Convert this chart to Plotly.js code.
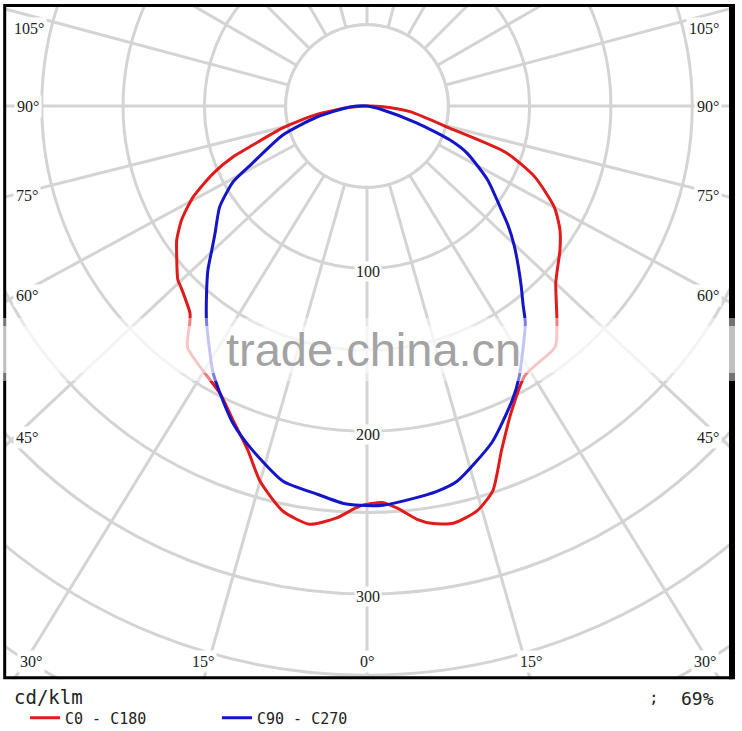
<!DOCTYPE html>
<html>
<head>
<meta charset="utf-8">
<script src="https://cdn.plot.ly/plotly-3.0.1.min.js"></script>
<style>
  html, body { margin: 0; padding: 0; background: #fff; overflow: hidden; }
  #wrap { position: relative; width: 742px; height: 731px; overflow: hidden; background: #fff; }
  #chart { position: absolute; left: -316px; top: -577px; width: 1366px; height: 1366px; }
</style>
</head>
<body>
<div id="wrap"><div id="chart"></div></div>
<script>
// ---------------- data ----------------
// angle from nadir in degrees: negative = left half, positive = right half; r in cd/klm
const c0Theta = [-90, -85.6, -80.6, -75.5, -70.8, -69.2, -66.4, -62.4, -58.4, -54.8, -52.8, -47.4, -45.5, -40.5, -39.3, -36.6, -27.1, -23.1, -19.1, -15.9, -11.7, -7.8, -4.2, -1, 2.2, 4.3, 6.9, 9, 11.7, 15.2, 18.1, 21.4, 25.5, 30.4, 38, 41.3, 46.9, 53.3, 57.3, 61.6, 67.1, 71.5, 75, 82.5, 87.5, 90];
const c0R     = [0, 10.5, 31.4, 53.2, 76.2, 88, 103, 120.6, 133.9, 143.2, 147, 158, 160, 167.6, 172, 185, 198.5, 210, 224, 240, 254.5, 259.6, 254, 246, 244, 248, 256, 260, 262, 258, 249, 227, 207, 192, 188, 177, 159, 148, 141, 131, 112, 90, 52.9, 26.7, 10, 0];

const c90Theta = [-90, -86.6, -77.6, -71, -63, -60.5, -55.6, -50, -47.2, -44.1, -40.6, -36.6, -30.1, -27.1, -22.9, -18.9, -12.6, -7.3, -3.5, -1, 2.3, 6.2, 10.3, 13.5, 20.4, 26.3, 29.3, 36.1, 38.1, 40.7, 43.5, 46.6, 49.8, 52.8, 58.5, 64.8, 67.7, 71.2, 76, 90];
const c90R     = [0, 10.5, 31.5, 54.7, 81, 94.5, 109.8, 122, 130, 140.6, 151.6, 165.5, 189, 198.4, 211.8, 221.9, 236.5, 240.7, 244.7, 245.6, 245.7, 243.3, 240.8, 237.3, 220.6, 201.7, 191.2, 165.2, 155.6, 145.3, 135, 124.5, 113.5, 102.8, 87, 68, 55.2, 32.5, 10.1, 0];

const seriesNames = ['C0 - C180', 'C90 - C270'];
const radialGrid = [50, 100, 150, 200, 250, 300, 350, 400];
const radialLabels = [100, 200, 300];
const spokeAngles = [0, 15.9, 31.6, 46.8, 61.6, 75.9, 90, 105, 120, 135, 150, 165, 180];
const angleLabels = ['105°', '90°', '75°', '60°', '45°', '30°', '15°', '0°', '15°', '30°', '45°', '60°', '75°', '90°', '105°'];
const unitLabel = 'cd/klm';
const effLabel = '69%';

// ---------------- geometry / styling ----------------
const W = 1366;               // plot size (clipped by wrapper)
const OX = 367, OY = 106;     // pole position on the page
const RMAX = 420;
const SCALE = (W / 2) / RMAX; // px per cd/klm
const px = x => (x - (OX - W / 2)) / W;
const py = y => 1 - (y - (OY - W / 2)) / W;

const angleLabelPos = [[29,28],[28,106],[27,195],[27,295],[27,437],[31,661],[203,661],[367,661],[531,661],[705,661],[708,437],[708,295],[708,195],[708,106],[704,28]];

const gridColor = '#d4d4d4';
const labelFont = {family: 'Liberation Serif, DejaVu Serif, serif', size: 16, color: '#222'};
const monoFont = {family: 'DejaVu Sans Mono, Liberation Mono, monospace', size: 15, color: '#222'};

const tickvals = [];
spokeAngles.forEach(a => { tickvals.push(a); if (a > 0 && a < 180) tickvals.push(360 - a); });

// inner mask circle (no spokes inside r = 50)
const maskTheta = [], maskR = [];
for (let t = 0; t <= 360; t += 2) { maskTheta.push(t); maskR.push(radialGrid[0]); }

const traces = [
  {type: 'scatterpolar', mode: 'lines', theta: maskTheta, r: maskR, fill: 'toself', fillcolor: '#ffffff',
   line: {color: gridColor, width: 3}, showlegend: false, hoverinfo: 'skip'},
  {type: 'scatterpolar', mode: 'lines', name: seriesNames[0], theta: c0Theta, r: c0R,
   line: {color: '#e01b1b', width: 3, shape: 'spline', smoothing: 0.6}},
  {type: 'scatterpolar', mode: 'lines', name: seriesNames[1], theta: c90Theta, r: c90R,
   line: {color: '#1414c8', width: 3, shape: 'spline', smoothing: 0.6}}
];

const annotations = [];
angleLabels.forEach((t, i) => {
  annotations.push({xref: 'paper', yref: 'paper', x: px(angleLabelPos[i][0]), y: py(angleLabelPos[i][1]),
    text: t, showarrow: false, font: labelFont, bgcolor: '#ffffff', borderpad: 2, xanchor: 'center', yanchor: 'middle'});
});
radialLabels.forEach(v => {
  annotations.push({xref: 'paper', yref: 'paper', x: px(OX + 1), y: py(OY + v * SCALE + 3),
    text: String(v), showarrow: false, font: labelFont, bgcolor: '#ffffff', borderpad: 1, xanchor: 'center', yanchor: 'middle'});
});
annotations.push({xref: 'paper', yref: 'paper', x: px(373), y: py(350), text: 'trade.china.cn', showarrow: false,
  font: {family: 'Liberation Sans, Arial, sans-serif', size: 47, color: '#a3a3a3'}, xanchor: 'center', yanchor: 'middle'});
annotations.push({xref: 'paper', yref: 'paper', x: px(12), y: py(697), text: unitLabel, showarrow: false,
  font: {family: monoFont.family, size: 19, color: '#222'}, xanchor: 'left', yanchor: 'middle'});
annotations.push({xref: 'paper', yref: 'paper', x: px(654), y: py(697), text: ';', showarrow: false,
  font: {family: monoFont.family, size: 16, color: '#222'}, xanchor: 'center', yanchor: 'middle'});
annotations.push({xref: 'paper', yref: 'paper', x: px(697), y: py(698), text: effLabel, showarrow: false,
  font: {family: monoFont.family, size: 18, color: '#222'}, xanchor: 'center', yanchor: 'middle'});

const rect = (x0, y0, x1, y1, extra) => Object.assign({type: 'rect', xref: 'paper', yref: 'paper', layer: 'above',
  x0: px(x0), x1: px(x1), y0: py(y0), y1: py(y1), line: {width: 0}, fillcolor: '#ffffff'}, extra || {});

const shapes = [
  rect(-2, -2, 744, 4),
  rect(-2, -2, 3.2, 733),
  rect(735, -2, 744, 733),
  rect(-2, 679.3, 744, 733),
  rect(4.7, 5.5, 731, 677.7, {fillcolor: 'rgba(0,0,0,0)', line: {color: '#000', width: 3}}),
  {type: 'line', xref: 'paper', yref: 'paper', layer: 'above', x0: px(732), x1: px(732), y0: py(4), y1: py(679.2), line: {color: '#000', width: 6}},
  rect(-2, 318, 744, 381, {opacity: 0.45}),
  rect(-2, 326, 744, 373, {opacity: 0.55})
];

const layout = {
  width: W, height: W,
  margin: {l: 0, r: 0, t: 0, b: 0, pad: 0},
  paper_bgcolor: '#ffffff',
  showlegend: true,
  legend: {orientation: 'h', x: px(25), y: py(718), xanchor: 'left', yanchor: 'middle',
    font: monoFont, bgcolor: 'rgba(0,0,0,0)', borderwidth: 0, entrywidth: 147, entrywidthmode: 'pixels', traceorder: 'normal'},
  polar: {
    domain: {x: [0, 1], y: [0, 1]},
    bgcolor: '#ffffff',
    angularaxis: {rotation: -90, direction: 'counterclockwise', tickmode: 'array', tickvals: tickvals,
      showticklabels: false, ticks: '', showline: false, gridcolor: gridColor, gridwidth: 3},
    radialaxis: {range: [0, RMAX], tickmode: 'array', tickvals: radialGrid, showticklabels: false, ticks: '',
      showline: false, gridcolor: gridColor, gridwidth: 3, angle: -90}
  },
  shapes: shapes,
  annotations: annotations
};

Plotly.newPlot('chart', traces, layout, {staticPlot: true, displayModeBar: false});
</script>
</body>
</html>
